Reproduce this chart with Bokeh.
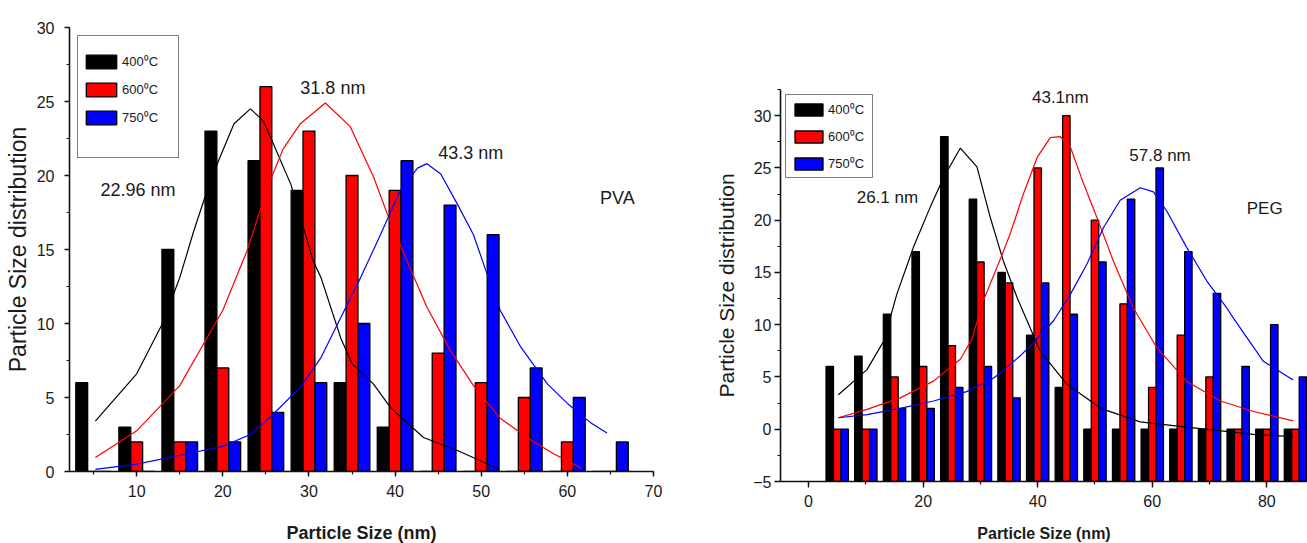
from jinja2 import Template
from bokeh.plotting import figure
from bokeh.models import (Range1d, SingleIntervalTicker, Legend, LegendItem,
                          Label, ColumnDataSource)
from bokeh.transform import dodge
from bokeh.embed import file_html
from bokeh.resources import INLINE

FONT = "Liberation Sans"
TXT = "#1a1a1a"

# ---------------- data: PVA (left) ----------------
pva_size = [5, 10, 15, 20, 25, 30, 35, 40, 45, 50, 55, 60, 65]
pva_400 = [6, 3, 15, 23, 21, 19, 6, 3, 0, 0, 0, 0, 0]
pva_600 = [0, 2, 2, 7, 26, 23, 20, 19, 8, 6, 5, 2, 0]
pva_750 = [0, 0, 2, 2, 4, 6, 10, 21, 18, 16, 7, 5, 2]

pva_fit400_x = [5.2, 10.0, 13.0, 15.0, 16.6, 17.9, 19.5, 21.3, 23.2, 24.7, 25.9, 27.9,
                30.5, 31.4, 33.7, 35.0, 37.5, 39.5, 43.3, 47.3, 51.9]
pva_fit400_y = [3.4, 6.6, 10.0, 13.1, 16.2, 18.5, 21.0, 23.5, 24.5, 23.7, 22.1, 19.4,
                14.2, 13.1, 9.0, 7.3, 5.9, 4.3, 2.3, 1.4, 0.2]
pva_fit600_x = [5.2, 10.0, 15.0, 20.0, 22.8, 25.2, 27.0, 29.0, 31.9, 34.8, 37.5, 39.1,
                41.4, 43.7, 46.4, 49.1, 52.2, 55.3, 58.4, 61.7]
pva_fit600_y = [0.95, 2.75, 5.8, 10.9, 14.9, 19.2, 21.8, 23.5, 24.9, 23.3, 19.9, 17.4,
                14.2, 11.1, 8.2, 5.8, 3.6, 2.3, 1.2, 0.2]
pva_fit750_x = [5.2, 10.0, 15.9, 20.0, 23.2, 25.9, 29.0, 31.4, 33.7, 36.0, 38.3, 40.6,
                42.6, 43.7, 45.3, 47.2, 49.1, 50.7, 52.2, 54.6, 57.7, 60.0, 62.7, 64.6]
pva_fit750_y = [0.15, 0.5, 1.2, 1.7, 2.5, 3.9, 5.7, 7.7, 10.4, 13.1, 16.0, 19.0,
                20.5, 20.8, 20.1, 18.1, 16.0, 13.3, 10.9, 8.4, 5.9, 4.6, 3.3, 2.6]

pva_notes = ["22.96 nm", "31.8 nm", "43.3 nm", "PVA"]
pva_note_x = [5.8, 29.0, 45.0, 63.8]
pva_note_y = [19.0, 25.9, 21.5, 18.5]

# ---------------- data: PEG (right) ----------------
peg_size = [5, 10, 15, 20, 25, 30, 35, 40, 45, 50, 55, 60, 65, 70, 75, 80, 85]
peg_400 = [6, 7, 11, 17, 28, 22, 15, 9, 4, 0, 0, 0, 0, 0, 0, 0, 0]
peg_600 = [0, 0, 5, 6, 8, 16, 14, 25, 30, 20, 12, 4, 9, 5, 0, 0, 0]
peg_750 = [0, 0, 2, 2, 4, 6, 3, 14, 11, 16, 22, 25, 17, 13, 6, 10, 5]

peg_fit400_x = [5.2, 10.2, 13.1, 15.4, 18.3, 21.2, 23.6, 26.5, 29.4, 31.7, 34.0, 36.4,
                40.4, 45.1, 51.0, 57.9, 66.0, 77.7, 84.6]
peg_fit400_y = [3.3, 5.7, 8.4, 12.9, 17.4, 21.2, 24.1, 26.9, 25.1, 20.3, 16.1, 12.6,
                7.5, 4.3, 2.0, 0.7, 0.2, -0.5, -0.7]
peg_fit600_x = [5.2, 10.2, 16.0, 21.8, 26.5, 28.5, 30.5, 33.5, 35.2, 37.5, 39.9, 42.2,
                43.9, 45.7, 48.0, 50.3, 53.2, 56.7, 60.8, 66.0, 71.9, 77.7, 84.6]
peg_fit600_y = [1.1, 1.9, 3.0, 4.6, 6.7, 8.6, 12.3, 16.3, 18.7, 22.5, 26.0, 27.9,
                28.0, 27.0, 23.5, 20.3, 16.1, 11.6, 7.8, 4.6, 2.7, 1.7, 0.8]
peg_fit750_x = [5.2, 10.2, 16.0, 21.8, 27.6, 32.3, 33.5, 36.9, 39.3, 42.8, 45.7, 48.6,
                51.5, 54.4, 57.9, 60.2, 62.5, 66.0, 69.5, 73.0, 74.2, 79.4, 84.6]
peg_fit750_y = [1.1, 1.4, 2.0, 2.7, 3.6, 4.9, 5.4, 7.0, 8.3, 10.4, 12.9, 15.8,
                19.3, 21.9, 23.1, 22.7, 20.9, 17.4, 14.2, 11.6, 10.6, 6.5, 4.7]

peg_notes = ["26.1 nm", "43.1nm", "57.8 nm", "PEG"]
peg_note_x = [8.4, 39.0, 56.0, 76.5]
peg_note_y = [22.2, 31.7, 26.2, 21.1]

series_names = ["400\u2070C", "600\u2070C", "750\u2070C"]
series_colors = ["#000000", "#ff0000", "#0000ff"]


def make_panel(size, vals, fits, notes, note_x, note_y, xr, yr, xint, width, height,
               borders, bar_w, tick_font, ylab_font, xlab_font, note_font, legend_cfg,
               ylab_standoff, xlab_standoff, tick_out, xlab_style, ytick_standoff,
               xtick_standoff):
    p = figure(width=width, height=height, output_backend="svg", toolbar_location=None,
               x_range=Range1d(*xr), y_range=Range1d(*yr))
    p.min_border_left, p.min_border_right, p.min_border_top, p.min_border_bottom = borders
    p.outline_line_color = None
    p.xgrid.visible = False
    p.ygrid.visible = False
    p.background_fill_color = "white"

    src = ColumnDataSource(dict(size=size, v0=vals[0], v1=vals[1], v2=vals[2]))
    rends = []
    for i, key in enumerate(["v0", "v1", "v2"]):
        r = p.vbar(x=dodge("size", (i - 1) * bar_w, range=p.x_range), top=key,
                   bottom=yr[0], width=bar_w, source=src,
                   fill_color=series_colors[i], line_color="black", line_width=1.3)
        rends.append(r)
    empty = p.vbar(x=[], top=[], width=1, fill_alpha=0, line_alpha=0)

    for i, (fx, fy) in enumerate(fits):
        p.line(fx, fy, line_color=series_colors[i], line_width=1.2)

    for t, x, y in zip(notes, note_x, note_y):
        p.add_layout(Label(x=x, y=y, text=t, text_font=FONT, text_font_size=note_font,
                           text_baseline="middle", text_align="left", text_color=TXT))

    items = [LegendItem(label=series_names[i], renderers=[rends[i]]) for i in range(3)]
    if legend_cfg.get("extra_row"):
        items.append(LegendItem(label=" ", renderers=[empty]))
    lg = Legend(items=items, location="top_left",
                margin=legend_cfg["margin"], padding=legend_cfg["padding"],
                spacing=legend_cfg["spacing"],
                glyph_width=legend_cfg["gw"], glyph_height=legend_cfg["gh"],
                label_height=legend_cfg["gh"], label_width=legend_cfg["lw"],
                label_standoff=2,
                label_text_font=FONT, label_text_font_size=legend_cfg["font"],
                label_text_color=TXT,
                border_line_color="black", border_line_width=1.5,
                background_fill_color="white", background_fill_alpha=1.0)
    if legend_cfg.get("title"):
        lg.title = " "
        lg.title_text_font_size = "9px"
        lg.title_standoff = 2
    p.add_layout(lg)

    p.xaxis.ticker = SingleIntervalTicker(interval=xint, num_minor_ticks=2)
    p.yaxis.ticker = SingleIntervalTicker(interval=5, num_minor_ticks=2)
    for ax in (p.xaxis[0], p.yaxis[0]):
        ax.axis_line_color = "#111111"
        ax.axis_line_width = 1.6
        ax.major_tick_line_color = "#111111"
        ax.minor_tick_line_color = "#111111"
        ax.major_tick_line_width = 1.4
        ax.minor_tick_line_width = 1.2
        ax.major_tick_in = 0
        ax.minor_tick_in = 0
        ax.major_tick_out = tick_out
        ax.minor_tick_out = 3
        ax.major_label_text_font = FONT
        ax.major_label_text_font_size = tick_font
        ax.major_label_text_color = TXT
        ax.axis_label_text_font = FONT
        ax.axis_label_text_color = TXT
        ax.axis_label_text_font_style = "normal"
    p.xaxis.axis_label = "Particle Size (nm)"
    p.yaxis.axis_label = "Particle Size distribution"
    p.xaxis.axis_label_text_font_size = xlab_font
    p.xaxis.axis_label_text_font_style = xlab_style
    p.yaxis.axis_label_text_font_size = ylab_font
    p.yaxis.axis_label_standoff = ylab_standoff
    p.xaxis.axis_label_standoff = xlab_standoff
    p.yaxis.major_label_standoff = ytick_standoff
    p.xaxis.major_label_standoff = xtick_standoff
    return p


left = make_panel(
    pva_size, [pva_400, pva_600, pva_750],
    [(pva_fit400_x, pva_fit400_y), (pva_fit600_x, pva_fit600_y), (pva_fit750_x, pva_fit750_y)],
    pva_notes, pva_note_x, pva_note_y,
    xr=(2.2, 70), yr=(0, 30), xint=10, width=690, height=552,
    borders=(69, 37, 27, 81), bar_w=1.38,
    tick_font="16px", ylab_font="23px", xlab_font="18px", note_font="18px",
    legend_cfg=dict(margin=8, padding=4, spacing=10, gw=38, gh=17, lw=52,
                    font="13px", extra_row=True, title=True),
    ylab_standoff=3, xlab_standoff=23, tick_out=5, xlab_style="bold",
    ytick_standoff=10, xtick_standoff=8)

right = make_panel(
    peg_size, [peg_400, peg_600, peg_750],
    [(peg_fit400_x, peg_fit400_y), (peg_fit600_x, peg_fit600_y), (peg_fit750_x, peg_fit750_y)],
    peg_notes, peg_note_x, peg_note_y,
    xr=(-4.9, 87.1), yr=(-5, 32.5), xint=20, width=617, height=552,
    borders=(90, 0, 89, 71), bar_w=1.3,
    tick_font="16px", ylab_font="21px", xlab_font="16px", note_font="17px",
    legend_cfg=dict(margin=5, padding=5, spacing=9, gw=35, gh=15, lw=39,
                    font="13px", extra_row=False, title=False),
    ylab_standoff=12, xlab_standoff=15, tick_out=6, xlab_style="bold",
    ytick_standoff=3, xtick_standoff=7)

page = Template("""<!DOCTYPE html>
<html lang="en">
<head>
<meta charset="utf-8">
<title>Particle size distribution</title>
<style>
html, body { box-sizing: border-box; margin: 0; padding: 0; overflow: hidden; }
.panels { display: flex; flex-direction: row; align-items: flex-start; }
</style>
{{ bokeh_css if bokeh_css }}
{{ bokeh_js if bokeh_js }}
</head>
<body>
<div class="panels">
{% for doc in docs %}{% for root in doc.roots %}
<div><div id="{{ root.elementid }}" data-root-id="{{ root.id }}" style="display: contents;"></div></div>
{% endfor %}{% endfor %}
</div>
{{ plot_script }}
</body>
</html>
""")

open("out.html", "w").write(file_html([left, right], INLINE, template=page))
